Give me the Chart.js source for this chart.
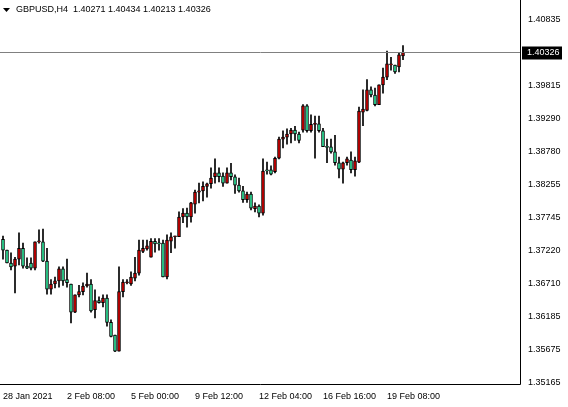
<!DOCTYPE html>
<html><head><meta charset="utf-8">
<script src="https://cdn.jsdelivr.net/npm/chart.js@4/dist/chart.umd.min.js"></script>
<style>html,body{margin:0;padding:0;background:#fff}#w{width:568px;height:407px}</style>
</head><body><div id="w"><canvas id="c"></canvas></div>
<script>
const opens=[1.3740,1.3723,1.3703,1.3698,1.3709,1.3726,1.3698,1.3703,1.3695,1.3736,1.3736,1.3706,1.3662,1.3670,1.3675,1.3694,1.3677,1.3670,1.3626,1.3653,1.3658,1.3667,1.3670,1.3630,1.3644,1.3641,1.3648,1.3610,1.3590,1.3565,1.3658,1.3672,1.3670,1.3679,1.3687,1.3721,1.3725,1.3712,1.3737,1.3734,1.3734,1.3681,1.3737,1.3744,1.3744,1.3775,1.3781,1.3775,1.3795,1.3814,1.3816,1.3823,1.3827,1.3838,1.3844,1.3839,1.3828,1.3844,1.3838,1.3825,1.3816,1.3802,1.3811,1.3788,1.3792,1.3781,1.3849,1.3849,1.3846,1.3867,1.3897,1.3900,1.3905,1.3911,1.3905,1.3911,1.3949,1.3910,1.3920,1.3921,1.3910,1.3885,1.3885,1.3877,1.3860,1.3850,1.3860,1.3864,1.3849,1.3861,1.3939,1.3942,1.3974,1.3966,1.3951,1.3982,1.3994,1.4013,1.4013,1.4010,1.40271];
const highs=[1.3745,1.3723,1.3719,1.3712,1.3750,1.3734,1.3711,1.3711,1.3736,1.3755,1.3756,1.3726,1.3677,1.3681,1.3697,1.3697,1.3709,1.3670,1.3653,1.3668,1.3672,1.3687,1.3677,1.3661,1.3650,1.3653,1.3653,1.3614,1.3590,1.3697,1.3677,1.3677,1.3689,1.3712,1.3739,1.3739,1.3739,1.3741,1.3741,1.3741,1.3739,1.3747,1.3750,1.3745,1.3783,1.3788,1.3789,1.3798,1.3817,1.3828,1.3830,1.3828,1.3852,1.3866,1.3852,1.3844,1.3852,1.3859,1.3841,1.3836,1.3823,1.3814,1.3814,1.3797,1.3794,1.3866,1.3861,1.3855,1.3869,1.3900,1.3910,1.3913,1.3914,1.3917,1.3908,1.3951,1.3951,1.3935,1.3933,1.3933,1.3914,1.3897,1.3897,1.3903,1.3869,1.3861,1.3869,1.3877,1.3869,1.3947,1.3974,1.3990,1.3979,1.3977,1.3982,1.4008,1.4035,1.4025,1.4013,1.4032,1.40434];
const lows=[1.3709,1.3703,1.3692,1.3656,1.3700,1.3695,1.3694,1.3692,1.3692,1.3734,1.3705,1.3654,1.3654,1.3664,1.3665,1.3668,1.3665,1.3609,1.3625,1.3650,1.3653,1.3665,1.3626,1.3617,1.3640,1.3634,1.3604,1.3587,1.3564,1.3565,1.3650,1.3670,1.3668,1.3675,1.3684,1.3719,1.3723,1.3712,1.3720,1.3723,1.3681,1.3678,1.3719,1.3726,1.3744,1.3766,1.3759,1.3767,1.3781,1.3797,1.3800,1.3806,1.3820,1.3828,1.3830,1.3823,1.3828,1.3833,1.3812,1.3814,1.3798,1.3798,1.3786,1.3783,1.3775,1.3778,1.3842,1.3841,1.3844,1.3866,1.3883,1.3889,1.3891,1.3895,1.3891,1.3908,1.3908,1.3908,1.3867,1.3908,1.3885,1.3860,1.3875,1.3856,1.3836,1.3828,1.3856,1.3844,1.3839,1.3860,1.3918,1.3941,1.3963,1.3949,1.3951,1.3969,1.3990,1.4005,1.4000,1.4002,1.40213];
const closes=[1.3723,1.3703,1.3697,1.3709,1.3726,1.3698,1.3695,1.3695,1.3736,1.3737,1.3706,1.3662,1.3670,1.3675,1.3694,1.3675,1.3672,1.3626,1.3653,1.3658,1.3667,1.3670,1.3628,1.3644,1.3641,1.3648,1.3610,1.3588,1.3565,1.3658,1.3673,1.3673,1.3681,1.3687,1.3723,1.3726,1.3730,1.3737,1.3733,1.3733,1.3681,1.3739,1.3744,1.3745,1.3775,1.3781,1.3775,1.3797,1.3814,1.3816,1.3823,1.3827,1.3836,1.3844,1.3838,1.3828,1.3844,1.3838,1.3825,1.3816,1.3802,1.3811,1.3789,1.3792,1.3781,1.3847,1.3847,1.3842,1.3867,1.3897,1.3900,1.3905,1.3911,1.3905,1.3895,1.3949,1.3910,1.3920,1.3921,1.3910,1.3885,1.3884,1.3877,1.3860,1.3850,1.3860,1.3866,1.3849,1.3863,1.3941,1.3944,1.3974,1.3966,1.3951,1.3982,1.3994,1.4015,1.4015,1.4002,1.4029,1.40326];
const yTicks=[1.40835,1.39815,1.39290,1.38780,1.38255,1.37745,1.37220,1.36710,1.36185,1.35675,1.35165];
const xTickIdx=[0,16,32,48,64,80,96];
const xTickLabels=['28 Jan 2021','2 Feb 08:00','5 Feb 00:00','9 Feb 12:00','12 Feb 04:00','16 Feb 16:00','19 Feb 08:00'];
const title='GBPUSD,H4  1.40271 1.40434 1.40213 1.40326';
const lastPrice=1.40326;

const FONT='"Liberation Sans"';
const up=opens.map((o,i)=>closes[i]>=o);
const wick=opens.map((o,i)=>({x:i,y:[lows[i],highs[i]]}));
const body=opens.map((o,i)=>({x:i,y:[o,closes[i]]}));
const deco={id:'deco',
 beforeDraw(ch){const c=ch.ctx;c.save();c.fillStyle='#fff';c.fillRect(0,0,ch.width,ch.height);c.restore();},
 afterDatasetsDraw(ch){const c=ch.ctx,a=ch.chartArea,y=ch.scales.y;c.save();
  const py=Math.round(y.getPixelForValue(lastPrice))+0.5;
  c.strokeStyle='#808080';c.lineWidth=1;c.beginPath();c.moveTo(a.left,py);c.lineTo(a.right,py);c.stroke();
  c.strokeStyle='#000';c.beginPath();c.moveTo(a.right-0.5,a.top);c.lineTo(a.right-0.5,a.bottom-0.5);c.lineTo(a.left,a.bottom-0.5);c.stroke();
  c.fillStyle='#000';c.fillRect(a.right+1,py-6,40,13);
  c.fillStyle='#fff';c.font='9px '+FONT;c.textBaseline='middle';c.fillText(lastPrice.toFixed(5),a.right+6,py+0.5);
  c.fillStyle='#000';c.beginPath();c.moveTo(3,8);c.lineTo(10,8);c.lineTo(6.5,12);c.closePath();c.fill();
  c.font='9px '+FONT;c.textBaseline='middle';c.fillText(title,16,10);
  c.restore();}};
new Chart(document.getElementById('c'),{type:'bar',
 data:{datasets:[
  {data:wick,backgroundColor:'#000',barThickness:1,grouped:false,order:2},
  {data:body,backgroundColor:up.map(u=>u?'#d00000':'#2fe39a'),borderColor:'#000',borderWidth:1,borderSkipped:false,barThickness:3,minBarLength:1,grouped:false,order:1}]},
 plugins:[deco],
 options:{animation:false,responsive:true,maintainAspectRatio:false,
  layout:{padding:0},
  plugins:{legend:{display:false},tooltip:{enabled:false}},
  scales:{
   x:{type:'linear',min:-0.75,max:129.5,offset:false,grid:{display:false,drawTicks:true,tickLength:4,tickColor:'#000'},border:{display:false},
     afterBuildTicks(s){s.ticks=xTickIdx.map(v=>({value:v}));},
     afterFit(s){s.height=22;s.paddingLeft=0;s.paddingRight=0;},
     ticks:{autoSkip:false,maxRotation:0,align:'start',color:'#000',font:{family:FONT,size:9},padding:2,
       callback:(v)=>{const k=xTickIdx.indexOf(v);return k>=0?xTickLabels[k]:'';}}},
   y:{position:'right',min:1.35119,max:1.41148,grid:{display:false,drawTicks:true,tickLength:4,tickColor:'#000'},border:{display:false},
     afterBuildTicks(s){s.ticks=yTicks.map(v=>({value:v}));},
     afterFit(s){s.width=47;s.paddingTop=0;s.paddingBottom=0;},
     ticks:{autoSkip:false,color:'#000',font:{family:FONT,size:9},padding:3,callback:v=>v.toFixed(5)}}}}});
</script></body></html>
